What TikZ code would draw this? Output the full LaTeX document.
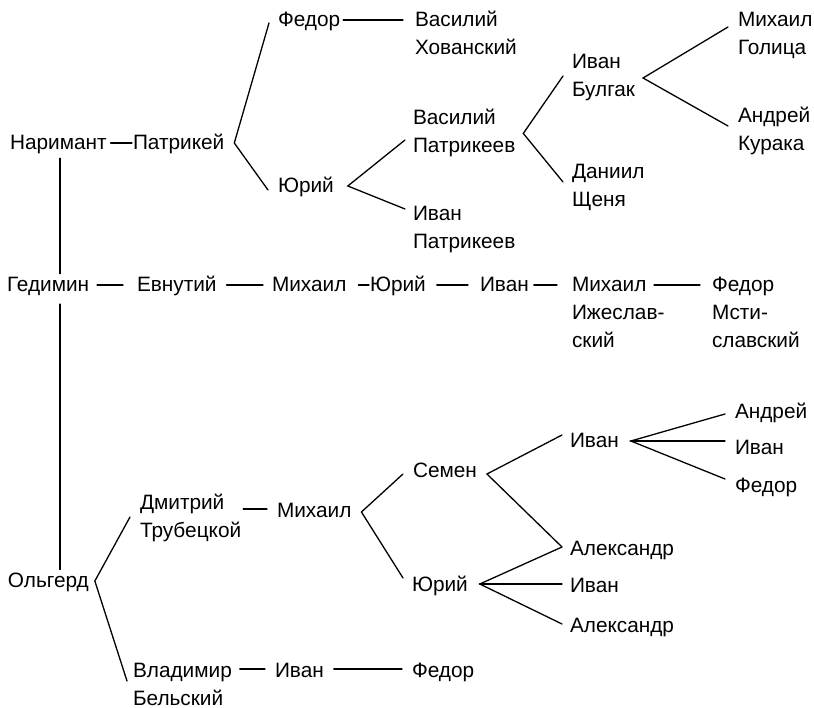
\documentclass[tikz,border=0pt]{standalone}
\usepackage{fontspec}
\setmainfont{Liberation Sans}
\usetikzlibrary{calc}
\newcommand\stk[2]{\vtop{\hbox{#1}\hbox{#2}}}
\newcommand\stkiii[3]{\vtop{\hbox{#1}\hbox{#2}\hbox{#3}}}
\begin{document}
\begin{tikzpicture}[x=1pt,y=-1pt,
  nm/.style={anchor=base west, inner sep=0pt, outer sep=0pt,
    font=\fontsize{20.8}{28}\selectfont},
  ln/.style={line width=1.3pt, line cap=round}]
\useasboundingbox (0,0) rectangle (814,708);
% ---------- nodes ----------
\node[nm] (fed1) at (278,27) {Федор};
\node[nm] (vasH) at (415,27) {\stk{Василий}{Хованский}};
\node[nm] (mikG) at (738,27) {\stk{Михаил}{Голица}};
\node[nm] (ivB)  at (572,69) {\stk{Иван}{Булгак}};
\node[nm] (vasP) at (413,125) {\stk{Василий}{Патрикеев}};
\node[nm] (andK) at (738,123) {\stk{Андрей}{Курака}};
\node[nm] (nar)  at (10,150) {Наримант};
\node[nm] (pat)  at (133,150) {Патрикей};
\node[nm] (danS) at (572,179) {\stk{Даниил}{Щеня}};
\node[nm] (yur1) at (278,193) {Юрий};
\node[nm] (ivP)  at (413,221) {\stk{Иван}{Патрикеев}};
\node[nm] (ged)  at (7,292) {Гедимин};
\node[nm] (evn)  at (137,292) {Евнутий};
\node[nm] (mik1) at (272,292) {Михаил};
\node[nm] (yur2) at (370,292) {Юрий};
\node[nm] (iv1)  at (480,292) {Иван};
\node[nm] (mikI) at (572,292) {\stkiii{Михаил}{Ижеслав-}{ский}};
\node[nm] (fedM) at (712,292) {\stkiii{Федор}{Мсти-}{славский}};
\node[nm] (and2) at (735,419) {Андрей};
\node[nm] (iv3)  at (570,447) {Иван};
\node[nm] (iv4)  at (735,454) {Иван};
\node[nm] (sem)  at (413,477) {Семен};
\node[nm] (fed3) at (735,492) {Федор};
\node[nm] (dmT)  at (140,509) {\stk{Дмитрий}{Трубецкой}};
\node[nm] (mik2) at (277,517) {Михаил};
\node[nm] (al1)  at (570,555) {Александр};
\node[nm] (olg)  at (8,587) {Ольгерд};
\node[nm] (yur3) at (412,591) {Юрий};
\node[nm] (iv5)  at (570,592) {Иван};
\node[nm] (al2)  at (570,632) {Александр};
\node[nm] (vlB)  at (133,677) {\stk{Владимир}{Бельский}};
\node[nm] (iv6)  at (275,677) {Иван};
\node[nm] (fed4) at (412,677) {Федор};
% ---------- vertical trunk ----------
\coordinate (vx) at ($(nar.base west)+(50,0)$);
\draw[ln] ($(vx |- nar.south)+(0,4)$) -- ($(vx |- ged.north)+(0,-4)$);
\draw[ln] ($(vx |- ged.south)+(0,8)$) -- ($(vx |- olg.north)+(0,-3)$);
% ---------- horizontal dashes ----------
\draw[ln] ($(nar.base east)+(4,-7)$) -- ($(pat.base west)+(-1,-7)$);
\draw[ln] ($(fed1.base east)+(3,-7)$) -- ($(vasH.base west)+(-12,-7)$);
\draw[ln] ($(ged.base east)+(8,-7)$) -- ($(evn.base west)+(-14,-7)$);
\draw[ln] ($(evn.base east)+(10,-7)$) -- ($(mik1.base west)+(-9,-7)$);
\draw[ln] ($(mik1.base east)+(12,-7)$) -- ($(yur2.base west)+(-1,-7)$);
\draw[ln] ($(yur2.base east)+(11,-7)$) -- ($(iv1.base west)+(-12,-7)$);
\draw[ln] ($(iv1.base east)+(5,-7)$) -- ($(mikI.base west)+(-15,-7)$);
\draw[ln] ($(mikI.base west)+(82,-7)$) -- ($(fedM.base west)+(-12,-7)$);
\draw[ln] ($(dmT.east |- mik2.base)+(2,-8)$) -- ($(mik2.base west)+(-10,-8)$);
\draw[ln] ($(vlB.base east)+(8,-8)$) -- ($(iv6.base west)+(-10,-8)$);
\draw[ln] ($(iv6.base east)+(10,-8)$) -- ($(fed4.base west)+(-10,-8)$);
% ---------- branches ----------
\coordinate (vP) at ($(pat.base east)+(10,-7)$);
\draw[ln] ($(fed1.base west)+(-9,-4)$) -- (vP) -- ($(yur1.base west)+(-10,-3)$);
\coordinate (vY1) at ($(yur1.base east)+(14,-7)$);
\draw[ln] ($(vasP.base west)+(-8,15)$) -- (vY1) -- ($(ivP.base west)+(-8,-12)$);
\coordinate (vVP) at ($(vasP.east)+(8,0)$);
\draw[ln] ($(ivB.base west)+(-9,7)$) -- (vVP) -- ($(danS.base west)+(-9,3)$);
\coordinate (vIB) at ($(ivB.east)+(8,0)$);
\draw[ln] ($(mikG.base west)+(-10,0)$) -- (vIB) -- ($(andK.base west)+(-10,3)$);
\coordinate (vO) at ($(olg.base east)+(6,-6)$);
\draw[ln] ($(dmT.base west)+(-10,8)$) -- (vO) -- ($(vlB.base west)+(-6,4)$);
\coordinate (vM2) at ($(mik2.base east)+(10,-5)$);
\draw[ln] ($(sem.base west)+(-10,-3)$) -- (vM2) -- ($(yur3.base west)+(-9,-13)$);
\coordinate (vS) at ($(sem.base east)+(10,-3)$);
\draw[ln] ($(iv3.base west)+(-8,-12)$) -- (vS) -- ($(al1.base west)+(-8,-8)$);
\coordinate (vI3) at ($(iv3.base east)+(12,-6)$);
\draw[ln] ($(and2.base west)+(-10,-5)$) -- (vI3) -- ($(fed3.base west)+(-10,-13)$);
\draw[ln] (vI3) -- ($(iv4.base west)+(-10,-13)$);
\coordinate (vY3) at ($(yur3.base east)+(12,-7)$);
\draw[ln] ($(al1.base west)+(-8,-8)$) -- (vY3) -- ($(al2.base west)+(-8,-8)$);
\draw[ln] (vY3) -- ($(iv5.base west)+(-8,-8)$);
\end{tikzpicture}
\end{document}
